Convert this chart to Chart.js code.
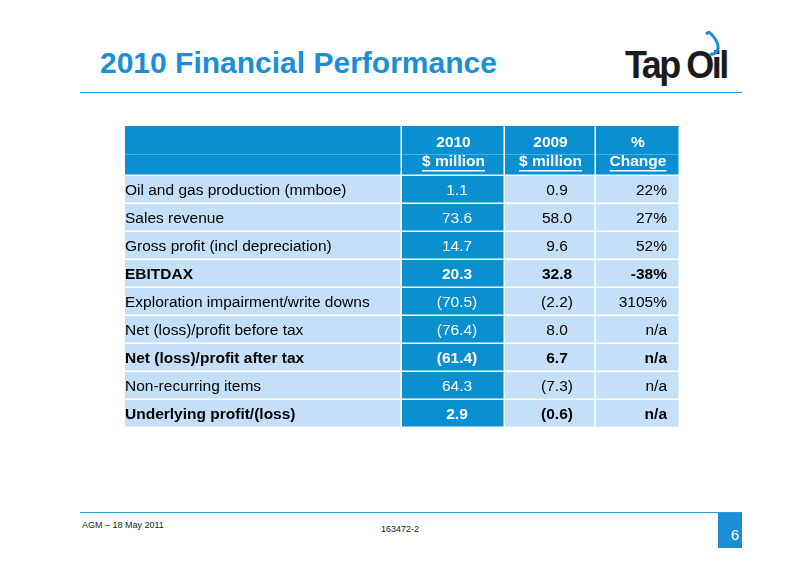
<!DOCTYPE html>
<html>
<head>
<meta charset="utf-8">
<script src="https://cdn.jsdelivr.net/npm/chart.js@4"></script>
<style>
  body { margin: 0; width: 800px; height: 565px; background: #fff; position: relative; overflow: hidden; font-family: "Liberation Sans", Arial, sans-serif; }
  #title { position: absolute; left: 100px; top: 46px; font-size: 30px; font-weight: bold; color: #1a8fd6; }
  #logo { position: absolute; left: 625px; top: 44px; font-size: 36px; font-weight: bold; color: #1b1b1b; letter-spacing: -2.5px; transform: scaleY(1.08); }
  #topline { position: absolute; left: 80px; top: 92px; width: 662px; height: 1px; background: #2a9ad8; }
  #botline { position: absolute; left: 80px; top: 512px; width: 662px; height: 1px; background: #2a9ad8; }
  #page { position: absolute; left: 718px; top: 513px; width: 24px; height: 35px; background: #1a8fd6; color: #fff; font-size: 15px; text-align: right; box-sizing: border-box; padding: 13px 3px 0 0; }
  .foot { position: absolute; font-size: 9px; color: #222; }
  #wrap { position: absolute; left: 125px; top: 126px; width: 555px; height: 302px; }
</style>
</head>
<body>
<div id="title">2010 Financial Performance</div>
<div id="logo">Tap Oil</div>
<svg style="position:absolute;left:702px;top:31px" width="22" height="26">
  <path d="M4 3 L7 1 Q17 10 16 18 Q14 24 8 23" fill="none" stroke="#1a8fd6" stroke-width="3"/>
</svg>
<div id="topline"></div>
<div id="botline"></div>
<div id="page">6</div>
<div class="foot" style="left:82px;top:520px">AGM – 18 May 2011</div>
<div class="foot" style="left:381px;top:524px">163472-2</div>
<div id="wrap"><canvas id="c"></canvas></div>
<script>
// Table content
const rowLabels = ['Oil and gas production (mmboe)', 'Sales revenue', 'Gross profit (incl depreciation)', 'EBITDAX',
  'Exploration impairment/write downs', 'Net (loss)/profit before tax', 'Net (loss)/profit after tax', 'Non-recurring items', 'Underlying profit/(loss)'];
const values2010 = ['1.1', '73.6', '14.7', '20.3', '(70.5)', '(76.4)', '(61.4)', '64.3', '2.9'];
const values2009 = ['0.9', '58.0', '9.6', '32.8', '(2.2)', '8.0', '6.7', '(7.3)', '(0.6)'];
const changes = ['22%', '27%', '52%', '-38%', '3105%', 'n/a', 'n/a', 'n/a', 'n/a'];
const boldRows = [3, 6, 8];
const headers = [['', ''], ['2010', '$ million'], ['2009', '$ million'], ['%', 'Change']];

// column boundaries on the x scale
const colEdges = [0, 2.77, 3.8, 4.71, 5.55];
const HEAD = -1.786;

const darkBlue = '#0a8fd0';
const lightBlue = '#c4e0f8';

const tablePlugin = {
  id: 'table',
  afterDraw(chart) {
    const ctx = chart.ctx;
    const x = chart.scales.x, y = chart.scales.y;
    const px = v => x.getPixelForValue(v);
    const py = v => y.getPixelForValue(v);
    ctx.save();
    // header
    for (let c = 0; c < 4; c++) {
      const x0 = px(colEdges[c]), x1 = px(colEdges[c + 1]);
      const y0 = py(HEAD), y1 = py(0);
      ctx.fillStyle = darkBlue;
      ctx.fillRect(x0, y0, x1 - x0 - 1.5, y1 - y0 - 1.5);
      ctx.fillStyle = 'rgba(255,255,255,0.35)';
      ctx.fillRect(x0, y0 + 28, x1 - x0 - 1.5, 0.8);
      const cx = (x0 + x1) / 2;
      ctx.fillStyle = '#fff';
      ctx.font = 'bold 15.5px "Liberation Sans", Arial';
      ctx.textAlign = 'center';
      ctx.textBaseline = 'middle';
      if (headers[c][0]) {
        ctx.fillText(headers[c][0], cx, y0 + 17);
        ctx.fillText(headers[c][1], cx, y0 + 36);
        const w = ctx.measureText(headers[c][1]).width;
        ctx.fillRect(cx - w / 2, y0 + 44, w, 1.5);
      }
    }
    // body rows
    rowLabels.forEach((label, i) => {
      const y0 = py(i), y1 = py(i + 1), cy = (y0 + y1) / 2 + 1;
      const bold = boldRows.includes(i);
      ctx.font = (bold ? 'bold ' : '') + '15.5px "Liberation Sans", Arial';
      ctx.textBaseline = 'middle';
      for (let c = 0; c < 4; c++) {
        const x0 = px(colEdges[c]), x1 = px(colEdges[c + 1]);
        ctx.fillStyle = c === 1 ? darkBlue : lightBlue;
        ctx.fillRect(x0, y0, x1 - x0 - 1.5, y1 - y0 - 1.5);
      }
      ctx.fillStyle = '#000';
      ctx.textAlign = 'left';
      ctx.fillText(label, px(0), cy);
      ctx.fillStyle = '#fff';
      ctx.textAlign = 'center';
      ctx.fillText(values2010[i], px(3.32), cy);
      ctx.fillStyle = '#000';
      ctx.fillText(values2009[i], px(4.32), cy);
      ctx.textAlign = 'right';
      ctx.fillText(changes[i], px(5.42), cy);
    });
    ctx.restore();
  }
};

new Chart(document.getElementById('c'), {
  type: 'scatter',
  data: { datasets: [{ data: rowLabels.map((l, i) => ({ x: 0, y: i + 0.5 })), pointRadius: 0 }] },
  options: {
    responsive: true,
    maintainAspectRatio: false,
    animation: false,
    layout: { padding: 0 },
    plugins: { legend: { display: false }, tooltip: { enabled: false } },
    scales: {
      x: { type: 'linear', min: colEdges[0], max: colEdges[4], display: false },
      y: { type: 'linear', min: HEAD, max: rowLabels.length, reverse: true, display: false }
    }
  },
  plugins: [tablePlugin]
});
</script>
</body>
</html>
